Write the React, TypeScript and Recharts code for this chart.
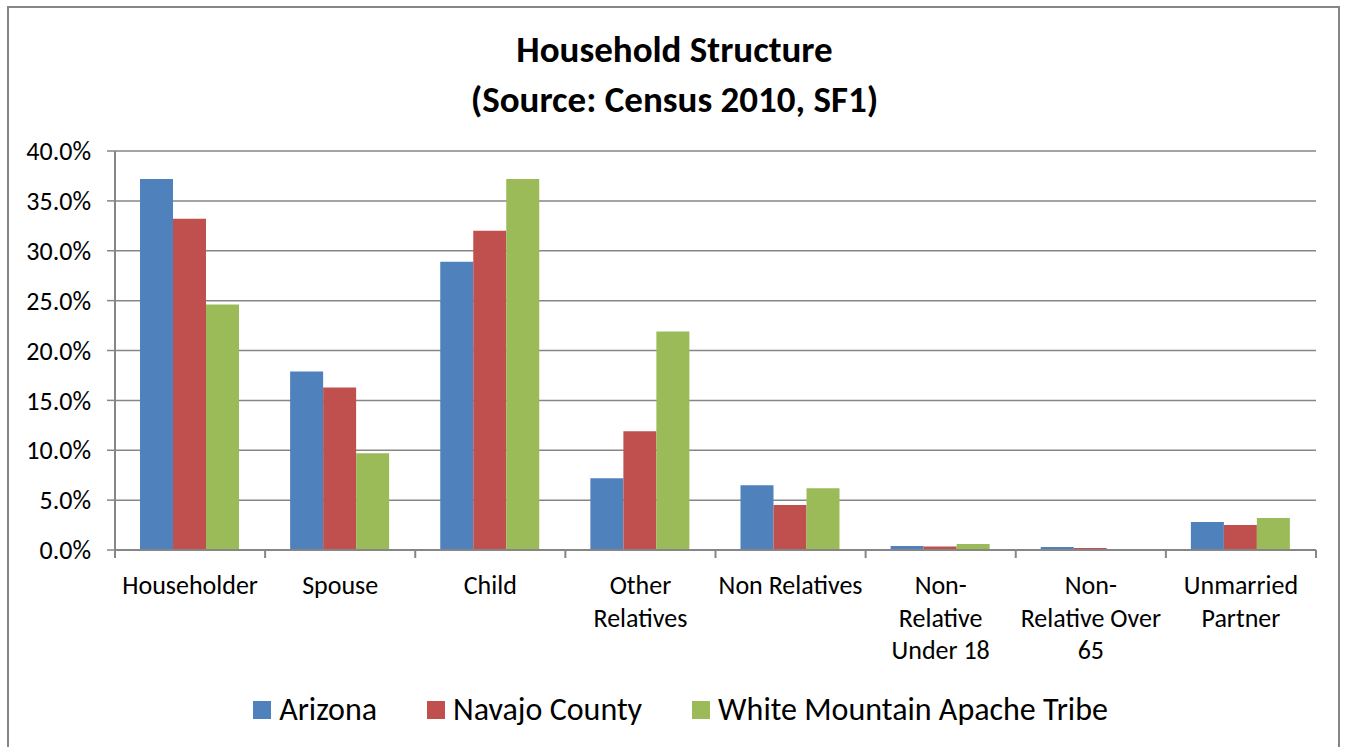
import React from 'react';
import { BarChart, Bar, XAxis, YAxis, CartesianGrid } from 'recharts';

const categories = [
  'Householder',
  'Spouse',
  'Child',
  'Other Relatives',
  'Non Relatives',
  'Non-Relative Under 18',
  'Non-Relative Over 65',
  'Unmarried Partner',
];

// how each category label wraps under the axis
const categoryLines: Record<string, string[]> = {
  'Householder': ['Householder'],
  'Spouse': ['Spouse'],
  'Child': ['Child'],
  'Other Relatives': ['Other', 'Relatives'],
  'Non Relatives': ['Non Relatives'],
  'Non-Relative Under 18': ['Non-', 'Relative', 'Under 18'],
  'Non-Relative Over 65': ['Non-', 'Relative Over', '65'],
  'Unmarried Partner': ['Unmarried', 'Partner'],
};

const arizona = [37.2, 17.9, 28.9, 7.2, 6.5, 0.4, 0.3, 2.8];
const navajoCounty = [33.2, 16.3, 32.0, 11.9, 4.5, 0.35, 0.2, 2.5];
const whiteMountain = [24.6, 9.7, 37.2, 21.9, 6.2, 0.6, 0.06, 3.2];

const yTicks = [0, 5, 10, 15, 20, 25, 30, 35, 40];

const series = [
  { key: 'arizona', name: 'Arizona', color: '#4F81BD' },
  { key: 'navajo', name: 'Navajo County', color: '#C0504D' },
  { key: 'wmat', name: 'White Mountain Apache Tribe', color: '#9BBB59' },
];

const data = categories.map((c, i) => ({
  category: c,
  arizona: arizona[i],
  navajo: navajoCounty[i],
  wmat: whiteMountain[i],
}));

const FONT = 'Carlito, Calibri, Lato, sans-serif';
const GRAY = '#868686';

const W = 1349;
const H = 747;
const MARGIN = { top: 151, right: 33, left: 0, bottom: 77 };
const Y_WIDTH = 115;
const PLOT_W = W - MARGIN.left - MARGIN.right - Y_WIDTH;
const BAND = PLOT_W / categories.length;

function CategoryTick(props: any) {
  const { x, y, payload, index } = props;
  const lines = categoryLines[payload.value] || [payload.value];
  const left = x - BAND / 2;
  const right = x + BAND / 2;
  return (
    <g>
      <line x1={left} y1={y - 8} x2={left} y2={y} stroke={GRAY} strokeWidth={2} />
      {index === categories.length - 1 && (
        <line x1={right} y1={y - 8} x2={right} y2={y} stroke={GRAY} strokeWidth={2} />
      )}
      <text x={x} y={y} textAnchor="middle" fontFamily={FONT} fontSize={26} fill="#000">
        {lines.map((l: string, i: number) => (
          <tspan key={i} x={x} dy={i === 0 ? 36 : 32.5}>
            {l}
          </tspan>
        ))}
      </text>
    </g>
  );
}

export default function App() {
  return (
    <div style={{ position: 'absolute', left: 0, top: 0, width: W, height: H, background: '#fff', overflow: 'hidden' }}>
      <div
        style={{
          position: 'absolute',
          left: 7,
          top: 6,
          width: 1333,
          height: 760,
          border: `2px solid ${GRAY}`,
          boxSizing: 'border-box',
        }}
      />
      <div
        style={{
          position: 'absolute',
          left: 0,
          width: W,
          top: 25,
          textAlign: 'center',
          fontFamily: FONT,
          fontWeight: 'bold',
          fontSize: 37,
          lineHeight: '50px',
          color: '#000',
        }}
      >
        Household Structure
        <br />
        (Source: Census 2010, SF1)
      </div>
      <div style={{ position: 'absolute', left: 0, top: 0 }}>
        <BarChart
          width={W}
          height={H}
          data={data}
          margin={MARGIN}
          barCategoryGap={25}
          barGap={0}
        >
          <CartesianGrid vertical={false} stroke={GRAY} strokeWidth={1.5} />
          <XAxis
            dataKey="category"
            height={120}
            axisLine={{ stroke: GRAY, strokeWidth: 2 }}
            tickLine={false}
            interval={0}
            tick={<CategoryTick />}
          />
          <YAxis
            width={Y_WIDTH}
            domain={[0, 40]}
            ticks={yTicks}
            interval={0}
            tickFormatter={(v: number) => `${v.toFixed(1)}%`}
            axisLine={{ stroke: GRAY, strokeWidth: 2 }}
            tickLine={{ stroke: GRAY, strokeWidth: 1.5 }}
            tickSize={8}
            tickMargin={16}
            tick={{ fontFamily: FONT, fontSize: 26, fill: '#000' }}
          />
          {series.map((s) => (
            <Bar key={s.key} dataKey={s.key} name={s.name} fill={s.color} isAnimationActive={false} />
          ))}
        </BarChart>
      </div>
      <div
        style={{
          position: 'absolute',
          left: 6,
          width: W,
          top: 690,
          display: 'flex',
          justifyContent: 'center',
          fontFamily: FONT,
          fontSize: 32,
          lineHeight: '40px',
          color: '#000',
        }}
      >
        {series.map((s, i) => (
          <div key={s.key} style={{ display: 'flex', alignItems: 'center', marginLeft: i === 0 ? 0 : 50 }}>
            <span style={{ display: 'inline-block', width: 18, height: 18, background: s.color, marginRight: 8 }} />
            <span>{s.name}</span>
          </div>
        ))}
      </div>
    </div>
  );
}
